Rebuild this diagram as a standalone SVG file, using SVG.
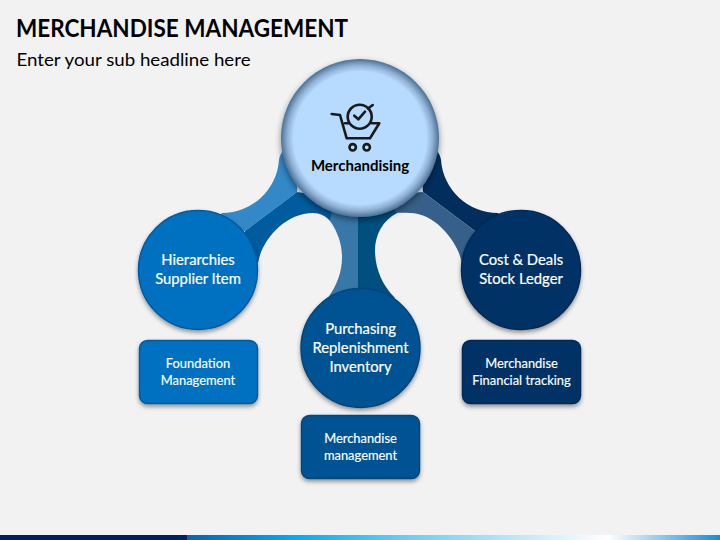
<svg xmlns="http://www.w3.org/2000/svg" width="720" height="540" viewBox="0 0 720 540">
<style>
text{font-family:"Lato","Carlito","Open Sans",sans-serif;text-anchor:middle}
.w{fill:#fff;stroke:#fff;stroke-width:.2px;font-size:14.800px}
.wb{fill:#fff;stroke:#fff;stroke-width:.15px;font-size:12.900px}
.ic{fill:none;stroke:#1a1a1a;stroke-width:2.600;stroke-linecap:round;stroke-linejoin:round}
</style>
<defs>
<filter id="sh" x="-20%" y="-20%" width="140%" height="140%"><feDropShadow dx="0" dy="2.500" stdDeviation="2" flood-color="#000" flood-opacity=".4"/></filter>
<filter id="shc" x="-20%" y="-20%" width="140%" height="140%"><feDropShadow dx="0" dy="3" stdDeviation="3" flood-color="#000" flood-opacity=".45"/></filter>
<radialGradient id="cg" gradientUnits="userSpaceOnUse" cx="360" cy="138" r="79">
<stop offset="0" stop-color="#b7daff"/><stop offset=".84" stop-color="#b7daff"/><stop offset=".92" stop-color="#8fb0d2"/><stop offset="1" stop-color="#4a7196"/></radialGradient>
<linearGradient id="bar" gradientUnits="userSpaceOnUse" x1="187" y1="0" x2="720" y2="0">
<stop offset="0" stop-color="#0a62b0"/><stop offset=".21" stop-color="#00b0f0"/><stop offset=".4" stop-color="#62cdf3"/><stop offset=".79" stop-color="#fff"/><stop offset="1" stop-color="#0f8fd8"/></linearGradient>
</defs>
<rect width="720" height="540" fill="#f2f2f2"/>
<rect x="0" y="535" width="187" height="5" fill="#002060"/>
<rect x="187" y="535" width="533" height="5" fill="url(#bar)"/>
<text x="182" y="37" style="font-weight:700;font-size:24px;fill:#000" textLength="332" lengthAdjust="spacingAndGlyphs">MERCHANDISE MANAGEMENT</text>
<text x="133.500" y="66" style="font-size:17px;fill:#000" textLength="234" lengthAdjust="spacingAndGlyphs">Enter your sub headline here</text>
<g id="connectors">
<path fill="#3388c8" d="M284 150C281 153 279.500 156 279 160A57 57 0 0 1 222 213L205 235L245 231L297 192L300 150Z"/>
<path fill="#005c9e" d="M297 192L245 231L238 270L258.300 262C262 240 285 213 313 213C320 213 326 216 330 221L350 200Z"/>
<path fill="#3778a8" d="M330 221C338 232 342 245 342 257C342 272 337 285 328 298L358 310L358 195L335 195Z"/>
<path fill="#00507f" d="M358 195L358 310L395 298C382 285 375 268 375 250C375 235 383 220 397 213L400 195Z"/>
<path fill="#012e5c" d="M436 150C439 153 440.500 156 441 160A57 57 0 0 0 498 213L515 235L475 231L423 192L420 150Z"/>
<path fill="#366089" d="M423 192L475 231L480 270L461.500 262C459 245 437 213 410 213C405 212.500 400 212.500 397 213L380 195Z"/>
</g>
<g id="node-hierarchies"><circle cx="198" cy="270" r="59.500" fill="#0070c0" stroke="#005b9e" stroke-width="1.500" filter="url(#sh)"/>
<text class="w" x="198" y="265">Hierarchies</text><text class="w" x="198" y="284">Supplier Item</text></g>
<g id="node-purchasing"><circle cx="360.500" cy="348" r="59.500" fill="#005392" stroke="#00457d" stroke-width="1.500" filter="url(#sh)"/>
<text class="w" x="360.500" y="334">Purchasing</text><text class="w" x="360.500" y="353">Replenishment</text><text class="w" x="360.500" y="372">Inventory</text></g>
<g id="node-cost"><circle cx="521" cy="270" r="59.500" fill="#003366" stroke="#002a56" stroke-width="1.500" filter="url(#sh)"/>
<text class="w" x="521" y="265">Cost &amp; Deals</text><text class="w" x="521" y="284">Stock Ledger</text></g>
<g id="node-merchandising"><circle cx="360" cy="138" r="79" fill="url(#cg)" filter="url(#shc)"/>
<circle class="ic" cx="359.700" cy="116.700" r="12"/>
<path class="ic" d="M368 108.500L372.700 105M354.300 115.700L358.300 119.300L365 111.700"/>
<path class="ic" d="M331.700 114L340 115L346.700 138.300L370 138.300L379.300 123.300L371.700 123.300M345 123.300L348.500 123.300"/>
<circle class="ic" cx="352.700" cy="147.300" r="3.200"/><circle class="ic" cx="366.700" cy="147.300" r="3.200"/>
<text x="360" y="171" style="font-weight:700;font-size:15px;fill:#000">Merchandising</text></g>
<g id="box-foundation"><rect x="139.500" y="340.500" width="118" height="63" rx="8" fill="#0070c0" stroke="#005b9e" stroke-width="1.500" filter="url(#sh)"/>
<text class="wb" x="198" y="368">Foundation</text><text class="wb" x="198" y="385">Management</text></g>
<g id="box-merchandise"><rect x="301.500" y="415.500" width="118" height="63" rx="8" fill="#005392" stroke="#00497f" stroke-width="1.500" filter="url(#sh)"/>
<text class="wb" x="360.500" y="443">Merchandise</text><text class="wb" x="360.500" y="460">management</text></g>
<g id="box-financial"><rect x="462.500" y="340.500" width="118" height="63" rx="8" fill="#003366" stroke="#002a56" stroke-width="1.500" filter="url(#sh)"/>
<text class="wb" x="521.500" y="368">Merchandise</text><text class="wb" x="521.500" y="385">Financial tracking</text></g>
</svg>
